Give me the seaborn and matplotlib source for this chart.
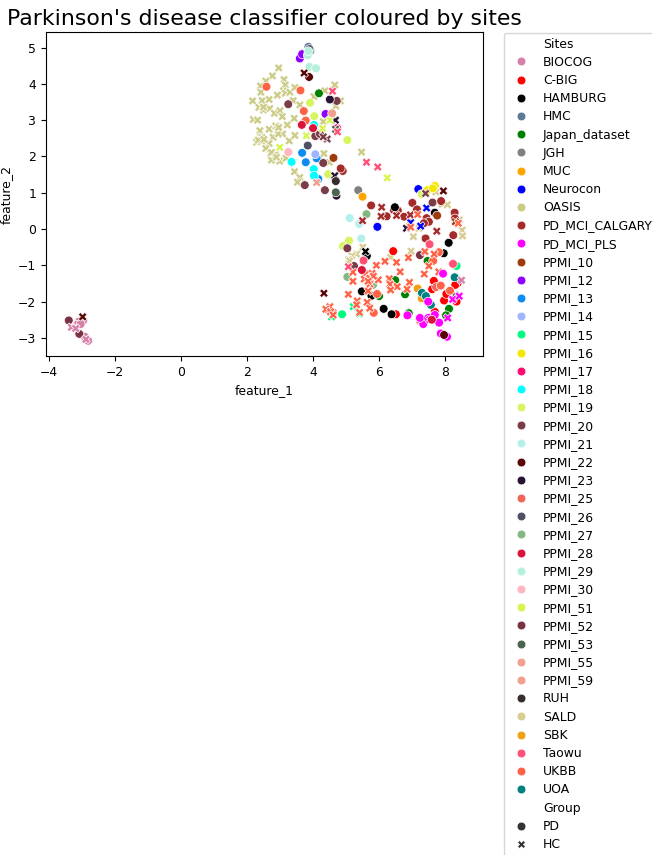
import pandas as pd
import seaborn as sns
import matplotlib
matplotlib.use("Agg")
import matplotlib.pyplot as plt

# Values: (feature_1, feature_2) per site and group
oasis_hc = [(2.95, 4.44), (2.76, 4.22), (2.56, 4.08), (2.40, 3.94), (3.11, 4.12), (3.15, 3.97),
            (3.09, 3.81), (2.41, 3.77), (2.16, 3.53), (2.45, 3.54), (2.66, 3.57), (2.91, 3.69),
            (3.15, 3.74), (3.29, 3.77), (3.44, 3.90), (3.39, 3.54), (3.59, 3.42), (2.35, 3.35),
            (2.49, 3.28), (2.68, 3.32), (2.82, 3.19), (2.99, 3.26), (3.06, 3.10), (2.18, 3.02),
            (2.31, 3.00), (3.42, 3.05), (3.21, 2.87), (2.38, 2.71), (2.66, 2.75), (2.86, 2.84),
            (2.92, 2.73), (3.07, 2.62), (2.78, 2.53), (2.40, 2.54), (2.28, 2.39), (2.43, 2.41),
            (2.66, 2.36), (3.27, 2.43), (3.44, 2.58), (2.56, 2.22), (2.70, 2.08), (2.85, 2.06),
            (2.73, 1.90), (2.98, 1.87), (3.17, 1.95), (4.32, 2.08), (4.48, 1.84), (3.43, 1.58),
            (3.59, 1.42), (3.52, 1.29), (4.35, 3.81), (4.65, 3.97), (4.02, 3.65), (4.68, 3.39),
            (4.82, 3.53), (4.30, 2.96), (5.46, 2.12), (2.45, 2.52), (2.33, 2.45), (2.94, 2.62),
            (2.49, 3.36), (2.73, 2.11), (2.88, 1.98), (2.95, 2.80), (2.50, 2.47)]
sald_hc = [(7.71, 1.02), (7.90, 0.68), (8.06, 0.67), (8.42, 0.25), (8.38, 0.13), (8.51, -0.03),
           (8.52, -0.19), (6.90, 0.20), (7.20, 0.02), (7.03, -0.21), (5.50, -0.50), (6.96, -0.61),
           (6.34, -0.78), (5.31, -0.69), (5.17, -0.74), (5.07, -0.84), (5.10, -0.88)]
ukbb_hc = [(6.88, -0.79), (7.38, -0.62), (7.66, -0.69), (6.52, -0.92), (6.17, -0.89), (5.91, -1.00),
           (7.50, -1.02), (6.63, -1.18), (7.36, -1.24), (7.80, -1.18), (5.20, -1.19), (5.20, -1.44),
           (5.58, -1.24), (5.78, -1.22), (5.54, -1.38), (5.97, -1.40), (5.71, -1.36), (6.30, -1.37),
           (5.71, -1.52), (6.32, -1.52), (6.54, -1.59), (6.34, -1.68), (6.91, -1.47), (6.84, -1.66),
           (5.66, -1.71), (5.06, -1.80), (5.33, -1.98), (5.31, -2.09), (5.63, -2.02), (5.71, -2.18),
           (5.40, -2.30), (4.50, -2.14), (4.38, -2.21), (4.52, -2.28), (4.60, -2.37), (7.23, -2.51),
           (8.39, 0.16), (6.95, 0.05), (7.16, 0.40), (5.82, -1.30), (5.66, -1.44)]
ukbb_pd = [(2.58, 3.92), (3.61, 3.82), (3.71, 3.25), (3.77, 2.99), (7.63, -0.88), (7.80, -0.64),
           (5.93, -1.79), (5.83, -2.31), (4.45, -2.23), (4.60, -2.30), (7.86, -1.56), (8.14, -1.70)]
biocog_pd = [(-3.10, -2.55), (-3.16, -2.64), (-2.97, -2.52), (-2.92, -2.97), (-2.82, -3.08), (-3.05, -2.62)]
biocog_hc = [(-3.33, -2.71), (-3.20, -2.74), (-2.89, -3.04), (8.49, -1.41)]
calgary_pd = [(4.89, 1.60), (4.83, 1.67), (5.75, 0.65), (7.00, 0.72), (6.44, 0.52), (6.56, 0.51),
              (6.22, 0.35), (6.75, 0.34), (7.14, 0.54), (7.43, 0.30), (7.50, 0.20), (7.35, 0.16),
              (7.87, 0.77), (8.28, 0.45), (8.29, 0.29), (8.24, -0.17), (7.40, -0.26)]
calgary_hc = [(6.07, 0.60), (6.05, 0.35), (6.52, 0.37), (5.49, 0.23), (7.74, -0.06), (6.94, 0.39)]
cbig_pd = [(6.42, -0.61), (7.65, -1.43), (7.60, -1.66), (7.96, -1.97), (8.03, -1.79), (8.34, -2.00),
           (8.37, -1.49), (8.30, -1.54), (7.68, -2.28), (6.50, -2.35)]
hamburg_pd = [(8.10, -0.38), (7.95, -0.67), (5.62, -0.74), (5.47, -1.72), (5.76, -1.84), (6.13, -2.20),
              (6.37, -2.35), (7.68, 0.45), (6.47, 0.60)]
hamburg_hc = [(5.58, -0.62)]
hmc_pd = [(3.85, 5.02), (3.91, 4.91)]
japan_pd = [(4.17, 3.74), (6.48, -1.41), (6.78, -1.80), (5.99, -1.85), (8.11, -2.20), (8.02, -2.38),
            (7.46, -0.88), (6.89, -2.32)]
jgh_pd = [(5.36, 1.07)]
muc_pd = [(5.49, 0.89)]
neurocon_pd = [(7.18, 1.10), (5.94, 0.06)]
neurocon_hc = [(7.43, 0.58), (7.25, 0.08), (6.95, 0.18)]
pls_pd = [(7.93, -1.23), (6.85, -2.38), (7.48, -2.00), (7.33, -2.62), (7.23, -2.45), (7.48, -2.45),
          (7.68, -2.37), (7.81, -2.58), (7.86, -2.88), (8.05, -2.97)]
pls_hc = [(8.07, -2.45), (8.22, -1.94), (8.42, -1.85), (7.53, -2.50)]
ppmi10_pd = [(4.61, 1.96), (7.75, 0.37)]
ppmi10_hc = [(8.30, 0.20)]
ppmi12_pd = [(3.59, 4.70), (4.37, 3.17), (3.66, 4.82)]
ppmi13_pd = [(3.66, 2.10), (3.77, 1.84), (4.10, 1.95), (4.15, 1.38)]
ppmi14_pd = [(4.06, 2.06)]
ppmi15_pd = [(4.87, -2.35), (8.34, -1.02)]
ppmi15_hc = [(5.21, -2.14), (5.40, -2.34), (4.55, -2.42)]
ppmi16_pd = [(7.68, 1.19), (7.46, 1.07), (7.62, 1.12)]
ppmi17_pd = [(4.72, 2.78)]
ppmi18_pd = [(4.02, 2.87), (3.34, 1.85), (4.01, 1.65), (4.02, 1.47)]
ppmi19_pd = [(3.90, 3.48), (4.03, 3.11), (5.03, 2.45), (4.45, 1.51), (7.28, 0.96), (5.08, -0.32), (4.90, -0.47)]
ppmi20_pd = [(3.24, 3.44), (4.71, 3.53), (4.06, 2.56), (4.20, 2.62), (3.74, 1.21), (4.35, 1.07),
             (4.30, 1.82), (7.61, 0.73), (5.03, -0.53), (5.23, -1.02)]
ppmi20_hc = [(4.42, 2.48), (4.30, 2.54), (7.40, 0.98)]
ppmi21_pd = [(5.10, 0.30), (5.39, 0.14), (5.45, -0.26)]
ppmi22_pd = [(3.87, 4.19), (7.96, -2.92)]
ppmi22_hc = [(3.72, 4.30), (7.94, 1.05), (4.32, -1.77), (-2.99, -2.42)]
ppmi23_pd = [(4.50, 3.57), (4.70, 0.92)]
ppmi23_hc = [(4.65, 1.47), (4.67, 3.00), (6.82, 0.02)]
ppmi25_pd = [(7.72, -1.60)]
ppmi26_pd = [(3.88, 4.96), (3.83, 2.30)]
ppmi27_pd = [(5.61, 0.41), (5.03, -1.32), (5.81, -1.54)]
ppmi28_pd = [(3.65, 2.87), (3.99, 2.78), (5.47, -1.13), (7.59, -2.50)]
ppmi29_pd = [(3.83, 4.79), (3.88, 4.47), (4.08, 4.43), (3.85, 4.90)]
ppmi30_pd = [(3.24, 2.12)]
ppmi51_hc = [(3.79, 2.57), (2.98, 2.25), (4.50, 3.00), (4.28, 2.77), (6.24, 1.41)]
ppmi52_pd = [(-3.41, -2.52), (-3.09, -2.89), (7.23, -0.72)]
ppmi53_pd = [(4.68, 1.01)]
ppmi53_hc = [(4.67, 2.75), (8.29, -1.82)]
ppmi55_pd = [(4.57, 3.19)]
ppmi55_hc = [(4.10, 1.28)]
ruh_pd = [(4.68, 1.32)]
sbk_pd = [(7.16, -1.64), (7.28, -1.91)]
taowu_pd = [(7.52, -0.42), (5.52, -0.87), (8.23, -0.96)]
taowu_hc = [(4.58, 3.80), (5.61, 1.84), (5.95, 1.71), (4.73, 2.68), (5.06, -1.04)]
uoa_pd = [(8.28, -1.33), (7.29, -1.76), (7.41, -1.85), (7.56, -2.09)]

sites = ['BIOCOG', 'C-BIG', 'HAMBURG', 'HMC', 'Japan_dataset', 'JGH', 'MUC', 'Neurocon', 'OASIS',
         'PD_MCI_CALGARY', 'PD_MCI_PLS', 'PPMI_10', 'PPMI_12', 'PPMI_13', 'PPMI_14', 'PPMI_15',
         'PPMI_16', 'PPMI_17', 'PPMI_18', 'PPMI_19', 'PPMI_20', 'PPMI_21', 'PPMI_22', 'PPMI_23',
         'PPMI_25', 'PPMI_26', 'PPMI_27', 'PPMI_28', 'PPMI_29', 'PPMI_30', 'PPMI_51', 'PPMI_52',
         'PPMI_53', 'PPMI_55', 'PPMI_59', 'RUH', 'SALD', 'SBK', 'Taowu', 'UKBB', 'UOA']
site_colors = ['#d580a8', '#ff0000', '#000000', '#5f7896', '#008000', '#808080', '#ffa500', '#0000ff',
               '#cccc88', '#a52a2a', '#ff00ff', '#a03a0f', '#8f00ff', '#0a8cf0', '#a0b4ff', '#00fa80',
               '#f5e600', '#ff0a6e', '#00ffff', '#d7f560', '#7a3c46', '#b4f0eb', '#5a0505', '#281432',
               '#f0645a', '#505064', '#82b982', '#dc143c', '#b4f0dc', '#ffb6c1', '#d7f550', '#783241',
               '#4b6450', '#f0a08c', '#f0a08c', '#372d2d', '#d7cd91', '#f0a014', '#ff5078', '#ff6347',
               '#008080']

# draw order: big background sites first
groups = [('OASIS', 'HC', oasis_hc), ('SALD', 'HC', sald_hc),
          ('BIOCOG', 'PD', biocog_pd), ('C-BIG', 'PD', cbig_pd), ('Japan_dataset', 'PD', japan_pd),
          ('PD_MCI_CALGARY', 'PD', calgary_pd), ('HAMBURG', 'PD', hamburg_pd), ('HAMBURG', 'HC', hamburg_hc),
          ('HMC', 'PD', hmc_pd), ('JGH', 'PD', jgh_pd), ('MUC', 'PD', muc_pd), ('Neurocon', 'PD', neurocon_pd),
          ('Neurocon', 'HC', neurocon_hc), ('PPMI_10', 'PD', ppmi10_pd), ('PPMI_10', 'HC', ppmi10_hc),
          ('PPMI_12', 'PD', ppmi12_pd), ('PPMI_13', 'PD', ppmi13_pd), ('PPMI_14', 'PD', ppmi14_pd),
          ('PPMI_15', 'PD', ppmi15_pd), ('PPMI_15', 'HC', ppmi15_hc), ('PPMI_16', 'PD', ppmi16_pd),
          ('PPMI_17', 'PD', ppmi17_pd), ('PPMI_18', 'PD', ppmi18_pd), ('PPMI_19', 'PD', ppmi19_pd),
          ('PPMI_20', 'PD', ppmi20_pd), ('PPMI_20', 'HC', ppmi20_hc), ('PPMI_21', 'PD', ppmi21_pd),
          ('PPMI_23', 'PD', ppmi23_pd), ('PPMI_23', 'HC', ppmi23_hc), ('PPMI_25', 'PD', ppmi25_pd),
          ('PPMI_26', 'PD', ppmi26_pd), ('PPMI_27', 'PD', ppmi27_pd), ('PPMI_29', 'PD', ppmi29_pd),
          ('PPMI_30', 'PD', ppmi30_pd), ('PPMI_51', 'HC', ppmi51_hc), ('PPMI_52', 'PD', ppmi52_pd),
          ('PPMI_53', 'PD', ppmi53_pd), ('PPMI_53', 'HC', ppmi53_hc), ('PPMI_55', 'PD', ppmi55_pd),
          ('PPMI_55', 'HC', ppmi55_hc), ('RUH', 'PD', ruh_pd), ('SBK', 'PD', sbk_pd), ('UOA', 'PD', uoa_pd),
          ('PD_MCI_CALGARY', 'HC', calgary_hc), ('UKBB', 'PD', ukbb_pd), ('UKBB', 'HC', ukbb_hc),
          ('BIOCOG', 'HC', biocog_hc), ('PD_MCI_PLS', 'PD', pls_pd), ('PD_MCI_PLS', 'HC', pls_hc),
          ('Taowu', 'PD', taowu_pd), ('Taowu', 'HC', taowu_hc), ('PPMI_28', 'PD', ppmi28_pd),
          ('PPMI_22', 'PD', ppmi22_pd), ('PPMI_22', 'HC', ppmi22_hc)]

rows = []
for site, group, points in groups:
    for x, y in points:
        rows.append({'feature_1': x, 'feature_2': y, 'Sites': site, 'Group': group})
df = pd.DataFrame(rows)

plt.rcParams['font.size'] = 8.9
fig = plt.figure(figsize=(6.52, 8.55), dpi=100)
ax = fig.add_axes([46 / 652, 1 - 356 / 855, 437 / 652, 324 / 855])

sns.scatterplot(data=df, x='feature_1', y='feature_2', hue='Sites', style='Group',
                hue_order=sites, style_order=['PD', 'HC'], palette=dict(zip(sites, site_colors)),
                s=40, ax=ax)
ax.set_xlim(-4.1, 9.14)
ax.set_ylim(-3.5, 5.43)
ax.set_title("Parkinson's disease classifier coloured by sites", fontsize=15.85, pad=5)
ax.legend(bbox_to_anchor=(1.047, 0.998), loc='upper left', borderaxespad=0, fontsize=8.9,
          labelspacing=0.42)

fig.savefig('out.png', dpi=100)
